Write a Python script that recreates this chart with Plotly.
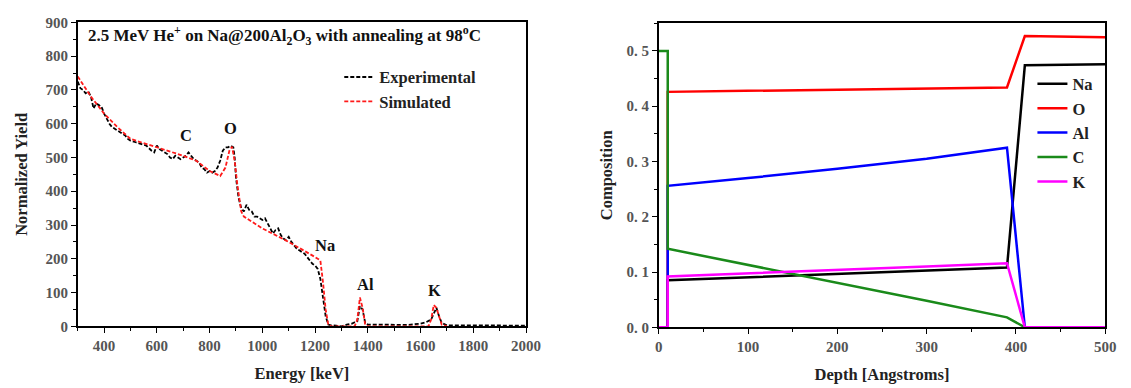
import plotly.graph_objects as go

# ---------------- Left panel data (RBS spectrum) ----------------
exp_energy = [300, 310, 320, 330, 340, 350, 360, 370, 380, 390, 400, 410, 420, 430, 440, 450,
              460, 470, 480, 490, 500, 520, 540, 560, 580, 590, 600, 610, 620, 630, 640, 650,
              660, 670, 680, 690, 700, 710, 720, 730, 740, 750, 760, 770, 780, 790, 800, 810,
              820, 830, 840, 850, 860, 870, 880, 890, 895, 900, 910, 920, 930, 940, 950, 960,
              970, 980, 990, 1000, 1010, 1020, 1030, 1040, 1050, 1060, 1070, 1080, 1090, 1100,
              1110, 1120, 1130, 1140, 1150, 1160, 1170, 1180, 1190, 1200, 1210, 1220, 1230,
              1240, 1250, 1260, 1280, 1300, 1320, 1340, 1350, 1360, 1370, 1380, 1390, 1400,
              1450, 1500, 1550, 1600, 1620, 1640, 1650, 1660, 1670, 1680, 1700, 1750, 1800,
              1850, 1900, 1950, 2000]
exp_yield = [725, 705, 700, 690, 695, 680, 645, 660, 655, 650, 630, 615, 600, 590, 585, 580,
             575, 570, 565, 555, 550, 545, 540, 535, 520, 515, 535, 525, 520, 515, 510, 500,
             495, 505, 500, 495, 500, 505, 515, 505, 495, 490, 485, 470, 465, 455, 460, 455,
             460, 470, 490, 520, 530, 530, 535, 530, 500, 440, 380, 350, 340, 360, 345, 340,
             325, 325, 320, 315, 320, 305, 290, 275, 285, 290, 270, 260, 255, 265,
             250, 240, 230, 225, 220, 215, 205, 195, 185, 180, 170, 140, 90,
             30, 5, 3, 2, 0, 5, 8, 12, 15, 60, 50, 10, 5,
             5, 5, 4, 8, 12, 20, 40, 55, 30, 10, 3, 3, 2,
             3, 1, 3, 2]

sim_energy = [300, 350, 400, 450, 500, 600, 700, 750, 800, 840, 860, 875, 885, 895, 905, 920,
              930, 1000, 1100, 1200, 1220, 1230, 1240, 1250, 1260, 1350, 1360, 1370, 1380,
              1390, 1400, 1630, 1640, 1650, 1660, 1670, 1680, 1700]
sim_yield = [740, 680, 630, 590, 555, 530, 505, 490, 460, 445, 470, 520, 532, 490, 420, 340,
             325, 290, 250, 205, 195, 130, 50, 5, 0, 0, 20, 85, 55,
             5, 0, 0, 20, 63, 55, 30, 5, 0]

peak_labels = ["C", "O", "Na", "Al", "K"]
peak_x = [709, 879, 1238, 1392, 1654]
peak_y = [564, 585, 240, 123, 107]

# ---------------- Right panel data (depth profile) ----------------
depth = [0, 10, 10, 100, 200, 300, 390, 410, 500]
comp_na = [0, 0, 0.085, 0.0905, 0.0965, 0.1025, 0.108, 0.474, 0.476]
comp_o = [0, 0, 0.426, 0.428, 0.430, 0.432, 0.434, 0.527, 0.525]
comp_al = [0, 0, 0.256, 0.270, 0.287, 0.305, 0.325, 0, 0]
comp_c = [0.5, 0.5, 0.142, 0.113, 0.080, 0.048, 0.018, 0, 0]
comp_k = [0, 0, 0.092, 0.098, 0.104, 0.110, 0.116, 0, 0]
elements = ["Na", "O", "Al", "C", "K"]
colors = ["#000000", "#ff0000", "#0000ff", "#1a8a1a", "#ff00ff"]

W, H = 1131, 388
SERIF = "Liberation Serif, Times New Roman, serif"


def px(x):
    return x / W


def py(y):
    return (H - y) / H


fig = go.Figure()

fig.add_trace(go.Scatter(x=exp_energy, y=exp_yield, mode="lines", name="Experimental",
                         line=dict(color="black", width=1.8, dash="4px,2px"),
                         xaxis="x", yaxis="y", legend="legend"))
fig.add_trace(go.Scatter(x=sim_energy, y=sim_yield, mode="lines", name="Simulated",
                         line=dict(color="#ff1a1a", width=1.8, dash="4px,2px"),
                         xaxis="x", yaxis="y", legend="legend"))

series = [comp_na, comp_o, comp_al, comp_c, comp_k]
for name, vals, col in zip(elements, series, colors):
    fig.add_trace(go.Scatter(x=depth, y=vals, mode="lines", name=name,
                             line=dict(color=col, width=2.5),
                             xaxis="x2", yaxis="y2", legend="legend2"))

tickfont = dict(family=SERIF, size=15, color="#555555", weight="bold")
titlefont = dict(family=SERIF, size=16.5, color="#222222", weight="bold")

common_axis = dict(showline=True, linecolor="black", linewidth=1.6, mirror=True,
                   ticks="outside", ticklen=5, tickwidth=1.4, tickcolor="black",
                   showgrid=False, zeroline=False, tickfont=tickfont)

legfont = dict(family=SERIF, size=16.5, color="#222222", weight="bold")

fig.update_layout(
    width=W, height=H,
    margin=dict(l=0, r=0, t=0, b=0),
    paper_bgcolor="white", plot_bgcolor="white",
    font=dict(family=SERIF),
    xaxis=dict(domain=[px(75), px(531)], range=[300, 2000], dtick=200, tick0=0,
               minor=dict(dtick=100, tick0=0, ticks="outside", ticklen=3, tickcolor="black"),
               title=dict(text="Energy [keV]", font=titlefont, standoff=14),
               anchor="y", **common_axis),
    yaxis=dict(domain=[py(332), py(15)], range=[0, 900], dtick=100,
               minor=dict(dtick=50, ticks="outside", ticklen=3, tickcolor="black"),
               title=dict(text="Normalized Yield", font=titlefont, standoff=14),
               anchor="x", **common_axis),
    xaxis2=dict(domain=[px(666), px(1120)], range=[0, 500], dtick=100,
                minor=dict(dtick=50, ticks="outside", ticklen=3, tickcolor="black"),
                title=dict(text="Depth [Angstroms]", font=titlefont, standoff=14),
                anchor="y2", **common_axis),
    yaxis2=dict(domain=[py(333), py(16)], range=[0, 0.55],
                tickvals=[0, 0.1, 0.2, 0.3, 0.4, 0.5],
                ticktext=["0. 0", "0. 1", "0. 2", "0. 3", "0. 4", "0. 5"],
                minor=dict(dtick=0.05, ticks="outside", ticklen=3, tickcolor="black"),
                title=dict(text="Composition", font=titlefont, standoff=10),
                anchor="x2", **common_axis),
    legend=dict(x=px(341), y=py(54), xanchor="left", yanchor="top",
                bgcolor="rgba(0,0,0,0)", font=legfont, tracegroupgap=0),
    legend2=dict(x=px(1046), y=py(61), xanchor="left", yanchor="top",
                 bgcolor="rgba(0,0,0,0)", font=legfont, tracegroupgap=0),
    showlegend=True,
)

annotations = [
    dict(x=px(83), y=py(29), xref="paper", yref="paper", xanchor="left", yanchor="middle",
         text="2.5 MeV He<sup>+</sup> on Na@200Al<sub>2</sub>O<sub>3</sub> with annealing at 98<sup>o</sup>C",
         showarrow=False, font=dict(family=SERIF, size=17, color="#111111", weight="bold"))
]
for lab, xv, yv in zip(peak_labels, peak_x, peak_y):
    annotations.append(dict(x=xv, y=yv, xref="x", yref="y", text=lab, showarrow=False,
                            xanchor="center", yanchor="middle",
                            font=dict(family=SERIF, size=16.5, color="#111111", weight="bold")))
fig.update_layout(annotations=annotations)

fig.write_html("out.html")
